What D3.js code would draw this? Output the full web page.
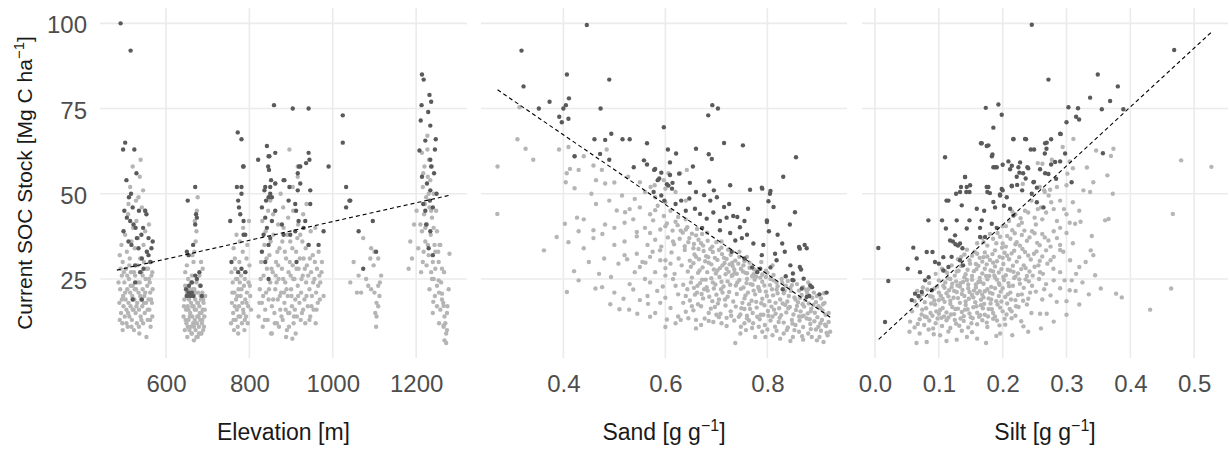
<!DOCTYPE html>
<html>
<head>
<meta charset="utf-8">
<script src="https://cdnjs.cloudflare.com/ajax/libs/d3/7.8.5/d3.min.js"></script>
<style>
  body { margin: 0; background: #fff; }
  text { font-family: "Liberation Sans", Arial, sans-serif; }
</style>
</head>
<body>
<div id="chart"></div>
<script>
// values: [x, SOC stock]
var yTicks = [25, 50, 75, 100];
var elevTicks = [600, 800, 1000, 1200];
var sandTicks = [0.4, 0.6, 0.8];
var siltTicks = [0.0, 0.1, 0.2, 0.3, 0.4, 0.5];

var elevFit = [[482, 27.6], [1282, 49.6]];
var sandFit = [[0.271, 80.5], [0.924, 13.7]];
var siltFit = [[0.0057, 7.3], [0.527, 97.4]];

var elevLight = [
  [488,18],[490,22],[492,15],[494,26],[495,12],[497,20],[498,17],[500,24],[501,14],[503,19],[504,28],[505,16],[507,22],[508,11],[510,18],[511,25],[512,14],[514,21],[515,17],[516,27],[518,13],[519,20],[520,23],[522,16],[523,10],[524,19],[526,26],[527,15],[528,22],[530,12],[531,18],[532,29],[534,21],[535,16],[536,9],[537,24],[539,14],[540,19],[541,27],[543,17],[544,22],[545,12],[547,30],[548,20],[549,15],[551,25],[552,18],[553,8],[555,23],[556,13],[557,28],[558,19],[560,16],[561,24],[562,21],[563,11],[565,26],[566,18],[567,14],[568,22],
  [486,24],[489,13],[491,28],[494,19],[496,10],[499,27],[502,21],[505,12],[507,26],[509,15],[512,29],[515,23],[517,11],[520,16],[523,27],[525,22],[529,17],[532,24],[535,11],[538,20],[541,13],[544,26],[547,18],[550,21],[553,28],[556,16],[559,25],[562,13],[564,19],[567,27],
  [489,32],[493,35],[496,30],[502,38],[506,33],[509,44],[513,31],[517,36],[521,40],[525,34],[529,42],[533,37],[538,31],[542,46],[546,35],[550,39],[554,33],[559,41],[564,30],[539,60],[537,55],[545,51],[514,52],[520,58],[528,48],[534,49],[510,47],[550,45],
  [642,14],[644,19],[645,10],[646,23],[648,16],[649,12],[650,21],[651,8],[652,17],[653,25],[654,13],[655,19],[656,10],[657,22],[658,15],[659,11],[660,18],[661,24],[662,9],[663,14],[664,20],[665,12],[666,17],[667,7],[668,22],[669,13],[670,19],[671,10],[672,16],[673,24],[674,12],[675,18],[676,8],[677,21],[678,14],[679,11],[680,17],[681,23],[682,13],[683,9],[684,19],[685,15],[686,12],[687,21],[688,16],[689,10],[690,18],[692,14],[694,20],[646,27],[650,29],[680,26],[688,28],
  [643,17],[647,13],[649,20],[652,11],[654,16],[657,14],[659,20],[661,9],[663,17],[665,22],[667,11],[669,16],[671,21],[673,8],[675,14],[677,18],[679,9],[681,15],[683,20],[685,9],[687,13],[689,19],[691,11],[693,16],
  [666,30],[668,33],[671,36],[673,39],[669,42],[674,45],[676,49],[663,32],[684,30],[660,24],[662,26],
  [756,12],[758,18],[760,24],[761,15],[763,10],[764,21],[766,28],[767,13],[768,19],[770,16],[771,25],[772,11],[774,22],[775,17],[776,30],[778,14],[779,20],[780,26],[782,12],[783,18],[784,33],[786,15],[787,23],[788,10],[790,19],[791,27],[792,14],[794,21],[795,35],[797,17],[798,24],[800,29],[802,20],[804,16],[762,34],[769,38],[777,36],[785,40],[793,31],[799,42],[757,27],[773,9],[789,13],[765,31],
  [759,21],[762,13],[765,17],[768,25],[771,20],[774,14],[777,24],[781,22],[785,16],[789,25],[793,18],[796,12],[801,23],
  [822,14],[825,22],[828,30],[830,18],[832,11],[834,26],[836,35],[838,16],[840,21],[842,28],[844,13],[846,19],[848,32],[850,24],[852,9],[854,17],[856,27],[858,38],[860,15],[862,22],[864,30],[866,12],[868,19],[870,25],[872,34],[874,16],[876,21],[878,28],[880,13],[882,40],[884,18],[886,24],[888,31],[890,10],[892,20],[894,27],[896,15],[898,36],[900,22],[902,17],[904,29],[906,12],[908,25],[910,19],[912,33],[914,14],[916,23],[918,28],[920,18],[922,38],[924,21],[926,15],[928,26],[930,31],[932,19],[934,12],[936,24],[938,29],[940,17],[942,35],[944,22],[946,14],[948,27],[950,20],[952,32],[954,16],[956,25],[958,40],[960,21],[962,28],[964,18],[966,33],[970,24],[974,30],[978,20],
  [824,18],[827,25],[833,20],[837,13],[841,31],[847,22],[853,28],[857,19],[861,12],[865,24],[869,29],[873,20],[877,14],[881,25],[885,33],[889,22],[893,15],[897,30],[901,20],[905,25],[909,16],[913,28],[917,20],[921,31],[925,25],[929,16],[933,28],[937,20],[941,26],[945,31],[949,17],[953,24],[957,30],[961,16],[965,23],[969,19],[973,27],[887,16],[895,11],[907,14],
  [831,42],[845,45],[857,44],[869,41],[881,46],[893,43],[905,45],[917,41],[929,44],[937,47],[896,63],[916,58],[916,55],[904,52],[862,53],[850,48],[875,50],[888,8],[863,26],[867,33],[879,36],[891,38],[903,34],[915,37],[927,36],[851,36],[839,39],[871,11],[883,21],[899,26],[911,9],[923,13],[935,34],[947,39],[959,12],[968,26],[944,13],[854,9],[903,7.5],
  [1050,30],[1062,26],[1042,24],[1058,21],[1073,37],[1085,23],[1090,31],[1092,34],[1098,29],[1100,33],[1109,31],[1092,22],[1100,21],[1109,23],[1113,24],[1105,18],[1109,17],[1102,15],[1105,14],[1104,11],[1068,21],[1080,25],[1112,20],[1116,26],
  [1214,62],[1220,58],[1228,55],[1216,52],[1224,49],[1232,46],[1219,44],[1238,43],[1226,41],[1214,39],[1235,38],[1222,36],[1244,35],[1218,33],[1230,32],[1240,30],[1225,29],[1246,28],[1212,27],[1236,27],[1250,39],[1248,45],[1253,33],[1242,50],[1221,47],[1234,54],[1210,41],[1186,36],[1190,31],[1182,28],[1201,45],[1205,34],[1195,41],[1242,25],[1250,23],[1255,21],[1260,24],[1245,20],[1262,19],[1258,16],[1265,18],[1268,14],[1270,12],[1266,11],[1272,9],[1268,7],[1255,12],[1275,17],[1250,17],[1278,22],[1262,28],[1258,35],[1232,22],[1240,15],[1227,63],[1231,60],[1238,58],[1217,56],[1227,67],
  [1216,30],[1222,40],[1228,35],[1236,45],[1242,40],[1230,50],[1246,33],[1238,25],
  [1254,24.6],[1262,20.7],[1241,18.3],[1266,17.1],[1274,15],[1266,11.4],[1274,10],[1272,6.2],[1280,32.4],[1267,27],[1254,30],[1256,35]
];

var elevDark = [
  [491,100],[515,92],[502,65],[497,63],[524,63],[505,54],[529,56],[516,50],[511,49],[506,43],[514,42],[522,41],[527,40],[498,39],[510,36],[517,35],[541,38],[550,45],[553,44],[558,37],[568,36],[530,37],[534,34],[554,33],[558,32],[565,34],[542,31],[526,29],[546,28],[526,24],[520,19],[542,19],[535,45],[545,40],[500,45],[520,46],[538,27],[562,30],
  [652,48],[670,52],[672,44],[674,43],[670,41],[665,35],[654,32],[650,33],[670,26],[674,25],[662,24],[655,23],[683,23],[686,20],[650,20],[654,21],[658,20],[662,21],[666,20],[648,22],[680,27],
  [772,68],[781,66],[786,58],[770,52],[781,52],[781,50],[785,58],[754,42],[790,38],[786,38],[773,48],[775,46],[786,42],[757,30],[781,28],[790,27],[773,27],[778,44],
  [859,76],[904,75],[942,75],[842,64],[862,62],[848,61],[821,60],[942,62],[944,60],[936,59],[845,58],[919,58],[990,58],[847,57],[916,56],[852,54],[884,54],[896,52],[916,51],[946,51],[836,51],[850,52],[854,49],[840,48],[846,61],[838,52],[850,50],[862,53],[882,54],[894,48],[846,49],[830,46],[838,43],[842,40],[854,42],[862,45],[834,38],[830,33],[846,35],[850,37],[838,30],[846,25],[878,41],[882,38],[898,38],[922,58],[922,53],[910,47],[912,45],[918,42],[946,47],[934,42],[930,40],[910,39],[942,35],[966,35],[978,39],[913,30],
  [1024,73],[1024,65],[1032,52],[1042,48],[1032,46],[1040,48],[1062,39],[1096,42],[1104,33],[1073,28],
  [1214,85],[1218,83.5],[1232,79],[1236,77],[1213,76],[1229,74],[1211,71.5],[1234,70],[1222,65.6],[1208,62.7],[1245,63],[1214,55],[1234,60],[1234,51],[1243,56],[1236,58],[1249,50],[1233,48],[1217,47],[1240,46],[1222,45],[1224,41],[1234,39],[1230,34],[1240,32],[1226,53],[1247,66]
];

var sandLight = [
  [0.737,6.2],[0.747,9],[0.776,8],[0.79,9.5],[0.81,8.5],[0.825,7.5],[0.838,10],[0.85,8],[0.862,9.5],[0.87,7.2],[0.88,9],[0.887,8],[0.897,7],[0.905,9.8],[0.91,6.5],[0.918,8.5],[0.923,9.5],[0.758,10],[0.8,10.2],[0.845,6.8],
  [0.6,10.9],[0.603,13.1],[0.62,12],[0.645,13.5],[0.67,11.5],[0.694,12.4],[0.705,13.8],[0.72,11.2],[0.735,12.8],[0.748,11],[0.76,13.5],[0.772,12],[0.785,13.2],[0.795,11.5],[0.806,12.8],[0.815,11],[0.824,13.6],[0.832,12.2],[0.84,10.8],[0.848,13],[0.855,11.5],[0.863,12.8],[0.87,10.9],[0.877,13.4],[0.884,11.8],[0.892,12.6],[0.9,11],[0.907,13],[0.913,11.6],[0.92,12.4],[0.867,14],[0.81,14],[0.895,10.2],
  [0.51,16.1],[0.529,16],[0.566,17.7],[0.57,13.9],[0.492,17.6],[0.58,15],[0.61,16.5],[0.64,15.4],[0.655,15.8],[0.67,17],[0.685,15],[0.697,16.8],[0.708,14.8],[0.718,17.2],[0.728,15.5],[0.738,16.9],[0.747,14.6],[0.755,16.2],[0.764,17.6],[0.771,15],[0.779,16.6],[0.787,14.5],[0.794,17.3],[0.801,15.6],[0.808,16.9],[0.816,14.8],[0.823,16.4],[0.83,17.8],[0.837,15.2],[0.844,16.8],[0.851,14.6],[0.858,17.1],[0.865,15.5],[0.872,16.9],[0.879,14.9],[0.886,16.3],[0.893,15.1],[0.9,17],[0.908,15.8],[0.914,14.5],[0.76,14.2],[0.7,14.5],
  [0.518,19.2],[0.55,18.8],[0.537,21.9],[0.584,21.5],[0.407,21.2],[0.463,22.2],[0.476,22.6],[0.6,19.5],[0.625,20.5],[0.648,18.7],[0.662,21],[0.674,19.3],[0.683,21.6],[0.692,18.5],[0.7,20.4],[0.709,22],[0.717,19],[0.725,21.2],[0.733,18.4],[0.74,20.6],[0.748,22.1],[0.755,19.3],[0.762,21],[0.769,18.6],[0.776,20.5],[0.783,22.2],[0.79,19.2],[0.797,21.3],[0.804,18.5],[0.811,20.2],[0.818,21.9],[0.825,19],[0.832,20.8],[0.839,18.4],[0.846,21.5],[0.853,19.6],[0.86,18.2],[0.867,20.3],[0.874,18.8],[0.881,17.8],[0.888,19.5],[0.895,18.2],[0.905,19.3],[0.912,18],
  [0.43,24.6],[0.4935,25.6],[0.53,23.5],[0.57,24],[0.595,22.8],[0.615,25],[0.635,23.3],[0.652,25.4],[0.663,23],[0.672,24.8],[0.681,22.6],[0.69,25.2],[0.698,23.4],[0.706,25.6],[0.714,22.8],[0.722,24.3],[0.73,25.9],[0.738,23.1],[0.745,24.7],[0.753,22.5],[0.76,25],[0.767,23.5],[0.775,24.8],[0.782,22.7],[0.79,24.2],[0.797,25.6],[0.805,23.2],[0.812,24.6],[0.82,22.9],[0.828,25],[0.836,23],[0.845,22.4],[0.858,23.5],[0.87,22.6],[0.88,22],
  [0.421,27.3],[0.508,29.5],[0.525,30.8],[0.55,28.5],[0.561,29.8],[0.58,27],[0.6,28.2],[0.618,26.5],[0.632,29],[0.644,27.2],[0.655,29.6],[0.664,26.8],[0.673,28.4],[0.682,27],[0.69,29.3],[0.699,26.6],[0.707,28.2],[0.716,29.7],[0.724,27.1],[0.732,28.8],[0.74,26.5],[0.748,28],[0.757,26.8],[0.765,28.3],[0.773,26.4],[0.781,27.5],[0.79,26.3],[0.8,26.8],[0.812,26.2],
  [0.362,33.4],[0.5896,33.4],[0.544,32.4],[0.57,31.5],[0.6,30.5],[0.612,32.8],[0.626,31],[0.638,33.5],[0.648,30.4],[0.657,32.2],[0.666,30.8],[0.675,33.2],[0.684,31.4],[0.693,32.9],[0.702,30.6],[0.711,32.3],[0.72,30.9],[0.728,32.1],[0.737,30.4],[0.745,31.5],[0.755,30.2],[0.765,29.8],[0.52,32],[0.48,31],
  [0.387,37.3],[0.41,35.8],[0.459,37],[0.4765,38.2],[0.544,37.5],[0.565,35],[0.58,36.5],[0.592,34.5],[0.605,37.2],[0.617,35.2],[0.628,36.8],[0.638,34.6],[0.647,37],[0.656,35.3],[0.665,36.5],[0.674,34.8],[0.683,36.2],[0.692,34.5],[0.7,35.8],[0.71,34.2],[0.52,36],[0.5,35],
  [0.403,41.2],[0.4818,41],[0.459,39.3],[0.544,38.8],[0.576,42.2],[0.56,40],[0.59,39.5],[0.603,41.3],[0.614,39.2],[0.624,40.8],[0.634,38.6],[0.643,40.2],[0.652,38.3],[0.662,39.7],[0.672,38.2],[0.682,38.6],[0.5,40],[0.52,41.5],[0.43,39],
  [0.2706,44.1],[0.4268,43],[0.44,42.5],[0.5047,45.1],[0.521,44.6],[0.537,42.5],[0.55,46],[0.57,44],[0.585,46.5],[0.597,43.5],[0.61,45],[0.625,43.2],[0.64,42.5],[0.464,47],[0.49,48],[0.515,49.5],[0.54,48.5],[0.56,50.5],[0.58,49],[0.6,47.5],[0.422,51.6],[0.455,50],[0.62,50.5],[0.64,48],[0.6,51.5],
  [0.271,58],[0.31,66],[0.326,63.2],[0.341,60],[0.3916,63],[0.41,63.7],[0.422,61],[0.44,61],[0.459,58.3],[0.4755,57],[0.485,63],[0.4066,56],[0.413,57.3],[0.43,57],[0.464,54],[0.482,53],[0.5,53.3],[0.4047,53.4],[0.314,75.4],[0.527,55],[0.55,53.4],[0.579,52.5],[0.606,56],[0.629,56],[0.642,57],[0.597,54],[0.571,52],
  [0.625,14],[0.635,18],[0.643,22],[0.652,17],[0.66,13],[0.668,23.8],[0.677,13.4],[0.686,19.8],[0.695,27.8],[0.703,17.8],[0.712,21],[0.72,13.6],[0.727,23.3],[0.736,26.8],[0.744,13.9],[0.751,18],[0.759,23.8],[0.766,16.2],[0.773,21.6],[0.78,13.9],[0.788,17.9],[0.794,23.1],[0.802,14.2],[0.809,22],[0.816,18],[0.822,12.4],[0.829,23.9],[0.835,17.4],[0.842,20],[0.849,11.9],[0.856,15.9],[0.864,19.5],[0.871,14.2],[0.878,20.9],[0.885,15.5],[0.891,21],[0.898,13.8],[0.904,16.4],[0.911,20.8],[0.916,9.2],[0.92,15],[0.902,8],[0.885,10.3],[0.868,8.2],[0.853,10],[0.832,9],[0.818,9.8],[0.796,8],[0.77,10.6],[0.783,11],[0.755,12],[0.71,12],[0.685,12.7],[0.66,10.5],[0.63,13],
  [0.64,20],[0.65,24],[0.658,20.4],[0.667,27.5],[0.676,22],[0.685,29.8],[0.693,24],[0.702,27.5],[0.71,24.2],[0.718,26.4],[0.726,29.3],[0.735,27.8],[0.743,29.5],[0.752,27.2],[0.76,26.7],[0.77,25.8],[0.778,25.7],[0.786,25.4],[0.6,26],[0.61,29.5],[0.62,23],[0.615,36],[0.63,39.2],[0.645,35.8],[0.655,34],[0.66,31.5],[0.67,35.5],[0.678,30.2],[0.688,33.8],[0.697,31.2],[0.705,33.5],[0.715,31.2],[0.723,33.6],[0.731,29.8],[0.59,30.5],[0.575,33],[0.555,30],[0.56,25],[0.54,27],[0.59,18],[0.565,20],[0.545,14.8],[0.6,40.5],[0.57,38.5],[0.58,45.2],[0.62,41.8],[0.64,39.5],[0.66,37.8],[0.45,30],[0.47,26.5],[0.5,21],[0.44,34],[0.53,45.5],
  [0.722,19.8],[0.729,14.2],[0.741,24],[0.749,16.4],[0.757,20.2],[0.764,12.8],[0.771,23.3],[0.778,18.3],[0.785,21.5],[0.792,14.5],[0.799,20],[0.806,25],[0.813,16],[0.82,20.8],[0.827,14.4],[0.834,21.6],[0.841,16.4],[0.848,23.2],[0.855,19],[0.862,14],[0.869,17.6],[0.876,21.8],[0.883,13.2],[0.89,17.4],[0.897,20],[0.904,12],[0.909,17.6],[0.915,11.2],[0.88,24],[0.862,21.6],[0.84,24.4],[0.818,24],[0.797,27.4],[0.774,27.8],[0.753,29],[0.732,26.2],[0.712,29],[0.705,19],[0.695,22.2],[0.689,16.3],[0.679,24.8],[0.671,20.6],[0.664,17.6],[0.656,22.4],[0.68,31.7],[0.665,33.8],[0.65,28.6],[0.71,36],[0.72,28],[0.745,33],[0.76,31.5],[0.788,30],[0.81,29]
];

var sandDark = [
  [0.318,92],[0.446,99.5],[0.322,81.5],[0.407,85],[0.49,83.5],[0.411,78],[0.373,77],[0.4,75],[0.405,76],[0.352,75],[0.473,75],[0.392,72.6],[0.397,71],[0.41,72],[0.692,76],[0.703,75],[0.684,73],[0.597,69.5],[0.494,67.6],[0.461,66],[0.516,66],[0.53,66],[0.482,65.8],[0.715,64.9],[0.752,64.2],[0.564,64.8],[0.605,63],[0.621,61.8],[0.66,63.2],[0.685,61.6],[0.691,60.2],[0.856,60.7],[0.472,61.7],[0.49,60],[0.422,61],[0.558,59.8],[0.609,59.2],[0.654,58],[0.538,57.8],[0.564,58.6],[0.592,56.2],[0.578,57],[0.831,55],[0.686,53.6],[0.727,52.5],[0.766,51.2],[0.79,51.5],[0.806,50.8],[0.648,53.2],[0.614,53.2],[0.603,52.8],[0.588,54.5],[0.58,57.3],[0.627,55.9],[0.609,55.5],[0.585,54],[0.606,52.4],[0.613,51.5],[0.789,51.8],[0.805,50],[0.577,50.5],[0.592,49.5],[0.631,48],[0.647,48.6],[0.676,49.6],[0.688,48],[0.701,49],[0.715,46.1],[0.741,43.2],[0.762,45.6],[0.799,42.2],[0.802,47.8],[0.812,46.1],[0.658,45.6],[0.668,44.1],[0.681,42.7],[0.694,44.5],[0.707,42],[0.72,43],[0.733,43.5],[0.746,40.2],[0.755,42],[0.707,39.3],[0.727,38.5],[0.737,36.3],[0.75,37],[0.7725,35.4],[0.792,35],[0.789,32],[0.829,35.4],[0.834,33],[0.862,34.4],[0.877,34],[0.815,32.4],[0.818,30.5],[0.8635,28.5],[0.866,27.8],[0.85,26.6],[0.871,25.1],[0.884,23.1],[0.8875,22.6],[0.902,20.5],[0.916,21],[0.849,24.7],[0.836,25.8],[0.806,28.4],[0.786,28],[0.78,27],[0.77,28.4],[0.877,19.7],[0.882,20],[0.854,44.6],[0.844,41],[0.8635,33.9],[0.873,35],[0.851,24.6],[0.8675,22.2],[0.799,41.7],[0.803,39],[0.76,38],[0.725,47],[0.695,51],[0.66,50.5],[0.64,45],[0.62,47],[0.598,48],[0.672,40],[0.73,33],[0.755,31],[0.82,38],[0.845,29],[0.83,22]
];

var siltLight = [
  [0.054,9.5],[0.065,6.2],[0.081,6.5],[0.092,8.8],[0.102,8.5],[0.115,9.6],[0.128,7.2],[0.144,8],[0.152,9.4],[0.174,6.2],[0.19,8.3],[0.196,9],[0.07,9],[0.112,6.8],[0.136,9.8],[0.16,7.5],
  [0.055,12.5],[0.062,10.8],[0.07,13.2],[0.077,11.5],[0.085,12.8],[0.091,10.5],[0.098,13.4],[0.105,11.2],[0.112,12.9],[0.118,10.6],[0.125,13],[0.132,11.3],[0.139,12.7],[0.146,10.8],[0.153,13.5],[0.16,11.7],[0.168,12.9],[0.176,10.9],[0.185,13.3],[0.195,11.4],[0.204,11.6],[0.214,13.5],[0.2325,11.1],[0.108,14],[0.09,14.2],
  [0.058,15.5],[0.066,17.2],[0.073,14.6],[0.08,16.4],[0.087,15],[0.094,17.5],[0.1,14.8],[0.106,16.5],[0.112,15.2],[0.118,17.7],[0.124,14.7],[0.13,16.3],[0.136,15.3],[0.142,17.4],[0.148,14.9],[0.154,16.7],[0.16,15.1],[0.166,17.3],[0.172,14.5],[0.178,16.2],[0.185,15],[0.192,17.5],[0.2,15.5],[0.214,15.5],[0.225,16.8],[0.245,15],[0.2586,14.8],[0.269,14.8],[0.207,17.8],[0.238,17.5],
  [0.062,18.5],[0.07,19.5],[0.078,18.2],[0.086,20],[0.093,18.7],[0.1,21],[0.106,19.2],[0.112,20.8],[0.118,18.6],[0.124,21.5],[0.13,19.4],[0.136,20.6],[0.142,18.4],[0.148,21.2],[0.154,19.6],[0.16,20.8],[0.166,18.9],[0.172,21.4],[0.178,19.3],[0.184,20.7],[0.19,18.5],[0.197,21.3],[0.204,19.7],[0.212,21],[0.22,18.8],[0.23,20.5],[0.24,19.2],[0.252,21.3],[0.2847,18.3],[0.275,20.2],[0.305,21.7],[0.3143,21.5],[0.3537,22.2],[0.3777,20.7],[0.3866,19.6],[0.431,16],[0.464,22.2],[0.3,18.5],
  [0.075,22.5],[0.085,23.8],[0.093,22.2],[0.1,24.6],[0.107,23],[0.114,25.2],[0.12,22.6],[0.127,24.3],[0.133,22.8],[0.14,25.5],[0.146,23.4],[0.152,24.8],[0.158,22.5],[0.164,25.3],[0.17,23.6],[0.176,24.9],[0.182,22.7],[0.188,25.4],[0.195,23.3],[0.202,24.7],[0.21,22.9],[0.218,25.3],[0.227,23.6],[0.236,24.9],[0.246,23],[0.257,25],[0.268,23.5],[0.28,24.6],[0.297,24.6],[0.3082,24.6],[0.29,22.3],
  [0.095,26.5],[0.105,28],[0.113,26.8],[0.12,29],[0.128,27.2],[0.135,28.8],[0.142,26.4],[0.149,29.5],[0.155,27.3],[0.162,28.9],[0.168,26.6],[0.175,29.3],[0.181,27.5],[0.188,28.7],[0.194,26.9],[0.201,29.4],[0.208,27.7],[0.216,28.9],[0.224,26.6],[0.233,29],[0.242,27.2],[0.2586,27],[0.2795,28],[0.27,29.5],[0.3448,26.1],[0.25,28.6],[0.29,27],
  [0.13,30.8],[0.14,32.2],[0.148,30.5],[0.156,33],[0.164,31.2],[0.172,32.8],[0.18,30.6],[0.188,33.4],[0.195,31.5],[0.203,32.7],[0.21,30.8],[0.218,33.3],[0.226,31.4],[0.235,32.9],[0.244,30.7],[0.253,33.1],[0.262,31.6],[0.3056,30.5],[0.28,31.5],[0.338,33.4],[0.342,32],[0.29,33.5],
  [0.16,35.5],[0.168,37],[0.176,34.8],[0.185,36.8],[0.192,38.5],[0.2,35.4],[0.207,37.6],[0.215,39.3],[0.222,35.8],[0.23,37.9],[0.238,36.2],[0.246,39],[0.254,35.6],[0.262,38.2],[0.2717,36.3],[0.28,39],[0.3396,37.6],[0.29,35],[0.252,41],[0.23,41.5],[0.3,38.5],
  [0.2,40.5],[0.21,42],[0.22,44],[0.228,42.8],[0.24,44.5],[0.25,43],[0.26,46],[0.268,44.5],[0.276,47.5],[0.3135,41.2],[0.322,41.8],[0.3605,42.2],[0.366,42.6],[0.4666,44.1],[0.285,42],[0.296,45.5],[0.272,49.5],[0.29,48],[0.245,48],[0.265,51],
  [0.4796,59.8],[0.527,57.9],[0.294,63.7],[0.3108,66.1],[0.3464,62.7],[0.3735,63.2],[0.3696,61.1],[0.364,55.4],[0.3725,50],[0.342,53.4],[0.332,57.7],[0.337,50.5],[0.3014,55.9],[0.31,57.5],[0.305,59.5],[0.3265,51],[0.2622,58.8],[0.255,59],[0.2315,52.9],[0.258,52],[0.266,50.5],[0.2743,51.2],[0.285,52],[0.3,52.5],[0.277,60],
  [0.067,11.8],[0.074,16],[0.081,13.8],[0.088,17.8],[0.095,12],[0.102,15.9],[0.109,18.3],[0.115,13.7],[0.121,16.8],[0.127,11.9],[0.133,18],[0.139,14.1],[0.145,16.1],[0.151,12],[0.157,18.2],[0.163,13.9],[0.169,16.4],[0.175,12.2],[0.181,17.8],[0.188,14],[0.196,16.6],[0.203,13.3],[0.211,16.2],[0.22,14.2],[0.229,12.6],
  [0.066,21.5],[0.074,20.6],[0.082,21.9],[0.09,19.8],[0.097,22.8],[0.103,20.1],[0.109,22.4],[0.115,19.9],[0.121,23.6],[0.128,21.2],[0.134,23.8],[0.14,20],[0.146,22.3],[0.152,20.3],[0.158,23.4],[0.164,21.4],[0.17,19.6],[0.176,22],[0.182,19],[0.188,22.3],[0.194,20],[0.2,22.3],[0.208,20.5],[0.216,23],[0.224,20.3],[0.233,22.4],[0.243,21],[0.262,19],[0.265,22],
  [0.11,27.3],[0.118,25],[0.125,26],[0.131,27.4],[0.138,24.1],[0.145,27.7],[0.152,25.9],[0.159,27.9],[0.165,24.2],[0.172,28],[0.179,25.9],[0.185,27.2],[0.191,24.8],[0.198,27.9],[0.205,26.1],[0.212,27.5],[0.22,25.7],[0.229,27.9],[0.238,25.9],[0.247,26],[0.256,29],[0.263,26.5],
  [0.135,31.5],[0.144,33.6],[0.152,31.8],[0.16,32.4],[0.168,30.1],[0.176,31.6],[0.184,32.3],[0.191,30.2],[0.199,34.2],[0.207,31.8],[0.214,32.5],[0.222,30.1],[0.231,33.8],[0.24,31.9],[0.249,32.4],[0.258,30.3],[0.268,33.4],[0.275,30.5],
  [0.17,35.8],[0.18,38.2],[0.19,35.5],[0.196,37.4],[0.205,34.5],[0.212,36.8],[0.219,38.4],[0.227,34.8],[0.234,39.2],[0.242,37.2],[0.25,38.4],[0.258,34.9],[0.266,37.2],[0.275,34.5],[0.285,37],[0.295,33],[0.31,35.5],[0.32,28.5],[0.33,30],[0.315,26.5],[0.325,24],[0.335,20.5],[0.32,17.5],[0.3,14.5],[0.28,12.5],[0.26,10.5],[0.24,9.5],[0.215,8.5],
  [0.205,40.5],[0.215,44.8],[0.225,40.8],[0.235,45],[0.255,45.5],[0.262,42.5],[0.28,45.5],[0.3,44],[0.31,47.5],[0.32,45],[0.29,40],[0.305,41.5],
  [0.078,14],[0.084,10.2],[0.089,21.8],[0.096,15.5],[0.1,18.8],[0.104,13.6],[0.11,24],[0.116,21.7],[0.119,14.6],[0.123,19.5],[0.126,16.2],[0.129,23.1],[0.134,13.4],[0.137,21.8],[0.141,16],[0.144,24.7],[0.147,19.2],[0.15,13.8],[0.155,21.6],[0.159,17],[0.162,24.1],[0.165,14.4],[0.168,20.4],[0.171,17.7],[0.174,25.9],[0.177,14],[0.18,21],[0.183,16.1],[0.187,26],[0.191,12.8],[0.194,23.8],[0.198,18.4],[0.201,25.6],[0.206,14.6],[0.209,23.8],[0.213,19],[0.217,27.1],[0.221,17],[0.226,24.9],[0.232,18.6],[0.236,28.2],[0.241,24.3],[0.185,29.8],[0.17,31.4],[0.158,29.4],[0.2,31.2],[0.22,35.2]
];

var siltDark = [
  [0.2456,99.6],[0.4687,92.2],[0.2717,83.5],[0.349,85],[0.3804,81.5],[0.337,78.2],[0.3683,77.2],[0.1735,75.2],[0.1933,76.2],[0.1985,73.2],[0.303,75.4],[0.318,75.1],[0.3553,74.8],[0.389,74.8],[0.315,72.6],[0.3,71],[0.3197,71.8],[0.1854,69.4],[0.166,64.8],[0.1776,64.2],[0.2168,66],[0.2366,66],[0.2665,64.8],[0.2759,66],[0.291,67.5],[0.184,61.5],[0.1097,60.7],[0.2492,63],[0.2686,63.2],[0.2978,61.8],[0.357,61.9],[0.1907,57.8],[0.2143,58.2],[0.2273,59.2],[0.2387,57.8],[0.2116,57.2],[0.2262,56.2],[0.2482,53.4],[0.2586,57.2],[0.2665,56],[0.2759,58.6],[0.29,59.5],[0.2837,54.4],[0.308,53.4],[0.1411,54.9],[0.149,52.5],[0.1347,52],[0.127,50],[0.143,50.5],[0.175,52],[0.18,50.2],[0.1985,51.4],[0.2143,52.2],[0.2227,52.6],[0.2305,51],[0.1958,49.8],[0.112,48],
  [0.0052,34.1],[0.0208,24.4],[0.0157,12.4],[0.06,34.2],[0.0512,28],[0.0653,31],[0.081,32.9],[0.09,32.9],[0.0705,27],[0.0784,24.6],[0.084,25.5],[0.0627,20.7],[0.0732,21.2],[0.0575,18.8],[0.068,20],[0.0889,21.7],[0.094,30],[0.1,29.5],[0.107,31.4],[0.0836,42.2],[0.105,42.2],[0.111,39.8],[0.115,48],[0.1176,36.3],[0.122,36],[0.126,35.2],[0.13,34.8],[0.1332,35.4],[0.137,34],[0.115,28.5],[0.107,27.5],[0.12,31.5],[0.1332,30.5],[0.138,29],[0.1254,37.8],[0.128,42.2],[0.1359,46.6],[0.1332,50.5],[0.1437,52],[0.148,50.5],[0.141,54.9],[0.1437,39.8],[0.148,42.2],[0.1594,45.6],[0.1672,42.2],[0.171,45],[0.1776,52],[0.176,50.5],[0.1854,47.6],[0.188,46],[0.1829,41.2],[0.1907,40],[0.1646,40],[0.1646,37.3],[0.1724,37.3],[0.1959,49.5],[0.2,51],[0.2064,49],[0.202,46.5],[0.2116,45.6],[0.2168,43.6],[0.2142,52.4],[0.222,55],[0.2246,57.8],[0.232,56],[0.236,54.5],[0.24,57.5],[0.2456,50],[0.249,53.5],[0.2535,51.8],[0.2535,47.5],[0.2639,46],[0.2717,55.8],[0.2821,59.3],[0.29,67.6],[0.2168,66.1],[0.235,66.1],[0.244,63],[0.269,65],[0.266,61.8],[0.1854,57.8],[0.1672,64.8],[0.175,64],[0.183,61],[0.188,57.8],[0.2,58.5],[0.209,59.5]
];

var width = 1229, height = 456;
var panelTop = 8, panelBottom = 358;

var svg = d3.select("#chart")
    .append("svg")
    .attr("width", width)
    .attr("height", height);

var y = d3.scaleLinear()
    .domain([1.82, 104.5])
    .range([panelBottom, panelTop]);

var panels = [
    {x0: 100, x1: 467, lim: [441.6, 1322], ticks: elevTicks, fmt: d3.format("d"),
     light: elevLight, dark: elevDark, fit: elevFit, title: "Elevation [m]", sup: false},
    {x0: 481, x1: 847, lim: [0.2386, 0.956], ticks: sandTicks, fmt: d3.format(".1f"),
     light: sandLight, dark: sandDark, fit: sandFit, title: "Sand [g g", sup: true},
    {x0: 862, x1: 1228, lim: [-0.0204, 0.553], ticks: siltTicks, fmt: d3.format(".1f"),
     light: siltLight, dark: siltDark, fit: siltFit, title: "Silt [g g", sup: true}
];

panels.forEach(function(p, i) {
    var x = d3.scaleLinear().domain(p.lim).range([p.x0, p.x1]);
    var g = svg.append("g");

    // grid
    g.selectAll(".hgrid")
        .data(yTicks)
        .enter().append("line")
        .attr("class", "hgrid")
        .attr("x1", p.x0).attr("x2", p.x1)
        .attr("y1", function(d) { return y(d); })
        .attr("y2", function(d) { return y(d); })
        .attr("stroke", "#ebebeb")
        .attr("stroke-width", 1.6);

    g.selectAll(".vgrid")
        .data(p.ticks)
        .enter().append("line")
        .attr("class", "vgrid")
        .attr("x1", function(d) { return x(d); })
        .attr("x2", function(d) { return x(d); })
        .attr("y1", panelTop).attr("y2", panelBottom)
        .attr("stroke", "#ebebeb")
        .attr("stroke-width", 1.6);

    // points
    g.append("g").selectAll("circle")
        .data(p.light)
        .enter().append("circle")
        .attr("cx", function(d) { return x(d[0]); })
        .attr("cy", function(d) { return y(d[1]); })
        .attr("r", 2.2)
        .attr("fill", "#b5b5b5");

    g.append("g").selectAll("circle")
        .data(p.dark)
        .enter().append("circle")
        .attr("cx", function(d) { return x(d[0]); })
        .attr("cy", function(d) { return y(d[1]); })
        .attr("r", 2.2)
        .attr("fill", "#5a5a5a");

    // fitted line
    g.append("path")
        .datum(p.fit)
        .attr("d", d3.line().x(function(d) { return x(d[0]); }).y(function(d) { return y(d[1]); }))
        .attr("fill", "none")
        .attr("stroke", "#000")
        .attr("stroke-width", 1.1)
        .attr("stroke-dasharray", "4,3");

    // x axis
    var ax = g.append("g")
        .attr("transform", "translate(0," + panelBottom + ")")
        .call(d3.axisBottom(x).tickValues(p.ticks).tickFormat(p.fmt).tickSize(0).tickPadding(17));
    ax.select(".domain").remove();
    ax.selectAll("text")
        .style("font-family", "'Liberation Sans', Arial, sans-serif")
        .style("font-size", "24px")
        .attr("fill", "#4d4d4d");

    var t = g.append("text")
        .attr("x", (p.x0 + p.x1) / 2)
        .attr("y", 440)
        .attr("text-anchor", "middle")
        .style("font-size", "23px")
        .attr("fill", "#1a1a1a")
        .text(p.title);
    if (p.sup) {
        t.append("tspan").attr("dy", "-9px").style("font-size", "16px").text("\u22121");
        t.append("tspan").attr("dy", "9px").text("]");
    }

    if (i === 0) {
        var ay = g.append("g")
            .attr("transform", "translate(" + p.x0 + ",0)")
            .call(d3.axisLeft(y).tickValues(yTicks).tickSize(0).tickPadding(13));
        ay.select(".domain").remove();
        ay.selectAll("text")
            .attr("dy", "0.4em")
            .style("font-family", "'Liberation Sans', Arial, sans-serif")
            .style("font-size", "24px")
            .attr("fill", "#4d4d4d");
    }
});

var yt = svg.append("text")
    .attr("transform", "translate(32," + ((panelTop + panelBottom) / 2) + ") rotate(-90)")
    .attr("text-anchor", "middle")
    .style("font-size", "21px")
    .attr("fill", "#1a1a1a")
    .text("Current SOC Stock [Mg C ha");
yt.append("tspan").attr("dy", "-8px").style("font-size", "15px").text("\u22121");
yt.append("tspan").attr("dy", "8px").text("]");
</script>
</body>
</html>
